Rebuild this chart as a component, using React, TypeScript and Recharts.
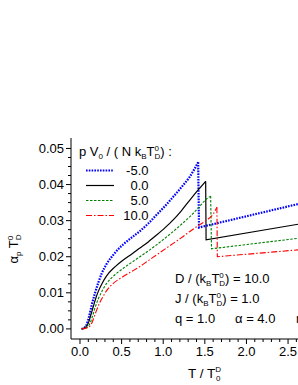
import React from "react";
import { LineChart, Line, XAxis, YAxis } from "recharts";

// reduced pressure p V0 / (N kB TD0)
const pressures = ["-5.0", "0.0", "5.0", "10.0"];

// [T / T0D, alpha_p * TD0]
const curveM5: [number, number][] = [
  [0.02, 0], [0.05, 0.0003], [0.08, 0.0012], [0.11, 0.0035], [0.14, 0.0065], [0.18, 0.0099],
  [0.22, 0.0128], [0.26, 0.0153], [0.32, 0.018], [0.4, 0.0205], [0.46, 0.0221], [0.52, 0.0234],
  [0.62, 0.0253], [0.72, 0.0271], [0.82, 0.0292], [0.92, 0.0316], [1.02, 0.034], [1.12, 0.0366],
  [1.22, 0.0393], [1.32, 0.0422], [1.42, 0.0462], [1.43, 0.0281], [2.62, 0.0346], [3.1, 0.0372],
];
const curve0: [number, number][] = [
  [0.02, 0], [0.06, 0.0003], [0.1, 0.0016], [0.13, 0.0038], [0.16, 0.0062], [0.19, 0.0085],
  [0.22, 0.0104], [0.27, 0.0128], [0.32, 0.0147], [0.42, 0.0172], [0.52, 0.0191], [0.62, 0.0207],
  [0.72, 0.0224], [0.82, 0.0241], [0.92, 0.026], [1.02, 0.028], [1.12, 0.0302], [1.22, 0.0328],
  [1.32, 0.0357], [1.42, 0.0385], [1.51, 0.0409], [1.515, 0.0247], [2.62, 0.029], [3.1, 0.0309],
];
const curve5: [number, number][] = [
  [0.02, 0], [0.08, 0.0004], [0.12, 0.0015], [0.15, 0.0035], [0.18, 0.0058], [0.22, 0.0083],
  [0.27, 0.0107], [0.32, 0.0126], [0.42, 0.015], [0.52, 0.0168], [0.62, 0.0184], [0.72, 0.02],
  [0.82, 0.0216], [0.92, 0.0233], [1.02, 0.0251], [1.12, 0.027], [1.22, 0.029], [1.32, 0.0311],
  [1.42, 0.0335], [1.52, 0.036], [1.57, 0.0368], [1.58, 0.0222], [2.62, 0.0251], [3.1, 0.0264],
];
const curve10: [number, number][] = [
  [0.02, 0], [0.1, 0.0004], [0.14, 0.0015], [0.17, 0.0033], [0.2, 0.0052], [0.24, 0.0074],
  [0.28, 0.0091], [0.32, 0.0106], [0.4, 0.0126], [0.52, 0.0145], [0.62, 0.0159], [0.72, 0.0173],
  [0.82, 0.0189], [0.92, 0.0205], [1.02, 0.0221], [1.12, 0.0237], [1.22, 0.0253], [1.32, 0.027],
  [1.42, 0.0286], [1.52, 0.0301], [1.6, 0.0318], [1.645, 0.0337], [1.65, 0.02], [2.62, 0.0219], [3.1, 0.0228],
];

const yMajor = [0, 0.01, 0.02, 0.03, 0.04, 0.05];
const yLabels = ["0.00", "0.01", "0.02", "0.03", "0.04", "0.05"];
const xMajor = [0, 0.5, 1, 1.5, 2, 2.5, 3];
const xLabels = ["0.0", "0.5", "1.0", "1.5", "2.0", "2.5", "3.0"];
const yTicks = Array.from({ length: 21 }, (_, i) => i * 0.0025);
const xTicks = Array.from({ length: 31 }, (_, i) => i * 0.1);

const FONT = "'Liberation Sans', Arial, sans-serif";

const styles = [
  { stroke: "#0000ff", strokeWidth: 2.2, dash: "1.6 1.2" },
  { stroke: "#000000", strokeWidth: 1.2, dash: undefined },
  { stroke: "#008000", strokeWidth: 1.1, dash: "2.5 1.5" },
  { stroke: "#ff0000", strokeWidth: 1.1, dash: "6 2 1.5 2" },
];

function split(pts: [number, number][]) {
  const i = pts.findIndex((p, k) => k < pts.length - 1 && pts[k + 1][1] < p[1]);
  const rows = pts.map(([t, a]) => ({ t, a }));
  return [rows.slice(0, i + 1), rows.slice(i)];
}

const series = [curveM5, curve0, curve5, curve10].map(split);

const labelOf = (v: number, major: number[], labels: string[]) => {
  const i = major.findIndex((m) => Math.abs(m - v) < 1e-6);
  return i < 0 ? null : labels[i];
};

const YTick = ({ x, y, payload }: any) => {
  const lab = labelOf(payload.value, yMajor, yLabels);
  return (
    <g>
      <line x1={x - (lab ? 5 : 3)} x2={x} y1={y} y2={y} stroke="#000" />
      {lab && (
        <text x={x - 7} y={y} dy={4.5} textAnchor="end" fontSize={13} fontFamily={FONT} fill="#000">
          {lab}
        </text>
      )}
    </g>
  );
};

const XTick = ({ x, y, payload }: any) => {
  const lab = labelOf(payload.value, xMajor, xLabels);
  return (
    <g>
      <line x1={x} x2={x} y1={y} y2={y + (lab ? 5 : 3)} stroke="#000" />
      {lab && (
        <text x={x} y={y} dy={17} textAnchor="middle" fontSize={13} fontFamily={FONT} fill="#000">
          {lab}
        </text>
      )}
    </g>
  );
};

const TopTick = ({ x, y, payload }: any) => {
  const lab = labelOf(payload.value, xMajor, xLabels);
  return <line x1={x} x2={x} y1={y} y2={y - (lab ? 5 : 3)} stroke="#000" />;
};

export default function App() {
  return (
    <div style={{ position: "fixed", left: 0, top: 0, width: 298, height: 385, overflow: "hidden", background: "#fff" }}>
      <LineChart width={360} height={385} margin={{ top: 138, right: 22, bottom: 0, left: 0 }}>
        <XAxis
          dataKey="t"
          type="number"
          domain={[-0.108, 3.1]}
          allowDataOverflow
          ticks={xTicks}
          interval={0}
          tick={<XTick />}
          tickLine={false}
          tickSize={0}
          tickMargin={0}
          height={46}
          axisLine={{ stroke: "#000" }}
        />
        <XAxis
          xAxisId="top"
          orientation="top"
          dataKey="t"
          type="number"
          domain={[-0.108, 3.1]}
          allowDataOverflow
          ticks={xTicks}
          interval={0}
          tick={<TopTick />}
          tickLine={false}
          tickSize={0}
          tickMargin={0}
          height={0}
          axisLine={{ stroke: "#000" }}
        />
        <YAxis
          type="number"
          domain={[-0.0028, 0.0529]}
          allowDataOverflow
          ticks={yTicks}
          interval={0}
          tick={<YTick />}
          tickLine={false}
          tickSize={0}
          tickMargin={0}
          width={71}
          axisLine={{ stroke: "#000" }}
        />
        {series.map(([rise, after], i) => [
          <Line
            key={`r${i}`}
            data={rise}
            dataKey="a"
            type="monotone"
            stroke={styles[i].stroke}
            strokeWidth={styles[i].strokeWidth}
            strokeDasharray={styles[i].dash}
            dot={false}
            isAnimationActive={false}
          />,
          <Line
            key={`f${i}`}
            data={after}
            dataKey="a"
            type="linear"
            stroke={styles[i].stroke}
            strokeWidth={styles[i].strokeWidth}
            strokeDasharray={styles[i].dash}
            dot={false}
            isAnimationActive={false}
          />,
        ])}
      </LineChart>
      <svg width={298} height={385} style={{ position: "absolute", left: 0, top: 0, pointerEvents: "none" }} fontFamily={FONT} fill="#000">
        <text x={79} y={156} fontSize={13}>
          p V<tspan fontSize={8} dy={3}>0</tspan>
          <tspan dy={-3}> / ( N k</tspan>
          <tspan fontSize={8} dy={3}>B</tspan>
          <tspan dy={-3}>T</tspan>
          <tspan fontSize={8} dy={-5}>0</tspan>
          <tspan fontSize={8} dx={-4.5} dy={8}>D</tspan>
          <tspan dy={-3}>) :</tspan>
        </text>
        {pressures.map((p, i) => (
          <g key={p}>
            <line
              x1={86}
              x2={114}
              y1={170.5 + i * 15}
              y2={170.5 + i * 15}
              stroke={styles[i].stroke}
              strokeWidth={styles[i].strokeWidth}
              strokeDasharray={styles[i].dash}
            />
            <text x={148.5} y={175 + i * 15} fontSize={13} textAnchor="end">
              {p}
            </text>
          </g>
        ))}
        <text x={175} y={283} fontSize={13}>
          D / (k<tspan fontSize={8} dy={3}>B</tspan>
          <tspan dy={-3}>T</tspan>
          <tspan fontSize={8} dy={-5}>0</tspan>
          <tspan fontSize={8} dx={-4.5} dy={8}>D</tspan>
          <tspan dy={-3}>) = 10.0</tspan>
        </text>
        <text x={175} y={303} fontSize={13}>
          J / (k<tspan fontSize={8} dy={3}>B</tspan>
          <tspan dy={-3}>T</tspan>
          <tspan fontSize={8} dy={-5}>0</tspan>
          <tspan fontSize={8} dx={-4.5} dy={8}>D</tspan>
          <tspan dy={-3}>) = 1.0</tspan>
        </text>
        <text x={175} y={323} fontSize={13}>q = 1.0</text>
        <text x={235} y={323} fontSize={13}>α = 4.0</text>
        <text x={296} y={323} fontSize={13}>n = 2.0</text>
        <text x={188} y={378} fontSize={13.5}>
          T / T<tspan fontSize={8} dy={-6}>D</tspan>
          <tspan fontSize={8} dx={-5} dy={9}>0</tspan>
        </text>
        <text transform="translate(17.5,249) rotate(-90)" fontSize={13} textAnchor="middle">
          α<tspan fontSize={8} dy={3}>p</tspan>
          <tspan dy={-3}> T</tspan>
          <tspan fontSize={8} dy={-5}>0</tspan>
          <tspan fontSize={8} dx={-4.5} dy={8}>D</tspan>
        </text>
      </svg>
    </div>
  );
}
